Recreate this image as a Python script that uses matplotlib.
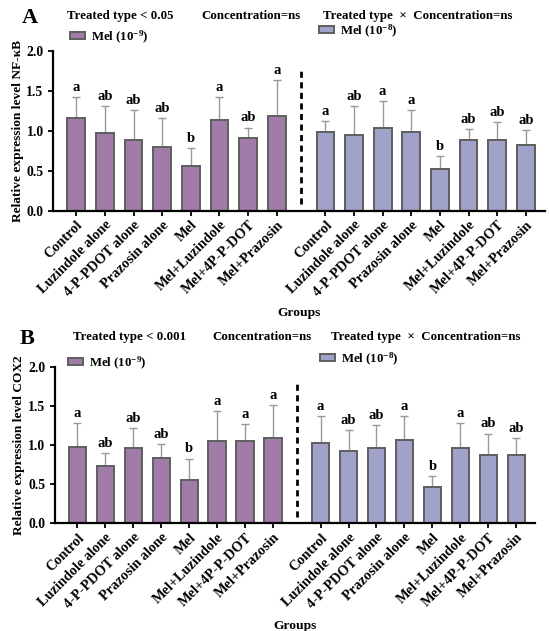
import matplotlib
matplotlib.use("Agg")
from matplotlib import pyplot as plt
from matplotlib import transforms
import numpy as np

plt.rcParams["font.family"] = ["Liberation Serif", "DejaVu Serif"]
plt.rcParams["font.weight"] = "bold"
plt.rcParams["mathtext.fontset"] = "custom"
plt.rcParams["mathtext.rm"] = "Liberation Serif:bold"
plt.rcParams["mathtext.it"] = "Liberation Serif:bold"
plt.rcParams["mathtext.bf"] = "Liberation Serif:bold"

groups = ["Control", "Luzindole alone", "4-P-PDOT alone", "Prazosin alone",
          "Mel", "Mel+Luzindole", "Mel+4P-P-DOT", "Mel+Prazosin"]

# panel A: NF-kB
nf_low = [1.16, 0.97, 0.88, 0.80, 0.56, 1.13, 0.91, 1.18]
nf_low_sd = [0.26, 0.34, 0.38, 0.36, 0.22, 0.29, 0.13, 0.45]
nf_low_sig = ["a", "ab", "ab", "ab", "b", "a", "ab", "a"]
nf_high = [0.99, 0.95, 1.04, 0.98, 0.52, 0.88, 0.89, 0.82]
nf_high_sd = [0.13, 0.36, 0.33, 0.28, 0.16, 0.14, 0.22, 0.19]
nf_high_sig = ["a", "ab", "a", "a", "b", "ab", "ab", "ab"]

# panel B: COX2
cox_low = [0.98, 0.74, 0.96, 0.84, 0.56, 1.06, 1.06, 1.09]
cox_low_sd = [0.31, 0.16, 0.26, 0.18, 0.27, 0.38, 0.21, 0.43]
cox_low_sig = ["a", "ab", "ab", "ab", "b", "a", "a", "a"]
cox_high = [1.03, 0.93, 0.97, 1.07, 0.46, 0.96, 0.88, 0.88]
cox_high_sd = [0.34, 0.27, 0.29, 0.30, 0.14, 0.32, 0.27, 0.21]
cox_high_sig = ["a", "ab", "ab", "a", "b", "a", "ab", "ab"]

LOW_COLOR = "#a27ca9"
HIGH_COLOR = "#a1a2c9"
EDGE = "#5e5e5e"
ERR = "#999999"
FS = 9.3

x_low = np.arange(8)
x_high = np.arange(8) + 8.7
divider = (x_low[-1] + x_high[0]) / 2

fig = plt.figure(figsize=(5.5, 6.31), dpi=100)
label_shift = transforms.ScaledTranslation(5 / 100, -7 / 100, fig.dpi_scale_trans)


def draw_panel(ax, low, low_sd, low_sig, high, high_sd, high_sig, ylabel):
    ax.bar(x_low, low, width=0.62, color=LOW_COLOR, edgecolor=EDGE, linewidth=1.4,
           label=r"Mel (10$^{-9}$)", zorder=2)
    ax.bar(x_high, high, width=0.62, color=HIGH_COLOR, edgecolor=EDGE, linewidth=1.4,
           label=r"Mel (10$^{-8}$)", zorder=2)
    for xs, vals, sd, sig in [(x_low, low, low_sd, low_sig), (x_high, high, high_sd, high_sig)]:
        ax.errorbar(xs, vals, yerr=[np.zeros(len(vals)), sd], fmt="none", ecolor=ERR,
                    elinewidth=1, capsize=3, capthick=1, zorder=1)
        for xi, v, s, letter in zip(xs, vals, sd, sig):
            ax.text(xi, v + s + 0.04, letter, ha="center", va="bottom", fontsize=10.5,
                    fontweight="bold")
    ax.plot([divider, divider], [0.08, 1.8], color="black", linestyle=(0, (2.2, 1.6)), lw=2)
    ax.set_xlim(-0.8, 16.37)
    ax.set_ylim(0, 2.0)
    ax.set_yticks([0, 0.5, 1.0, 1.5, 2.0])
    ax.set_yticklabels(["0.0", "0.5", "1.0", "1.5", "2.0"], fontsize=9.8)
    ax.set_xticks(list(x_low) + list(x_high))
    ax.set_xticklabels(groups + groups, rotation=45, ha="right", va="top",
                       rotation_mode="anchor", fontsize=10.3)
    for lab in ax.get_xticklabels():
        lab.set_transform(lab.get_transform() + label_shift)
    ax.tick_params(axis="both", width=1.3, length=3.5, direction="out")
    ax.tick_params(axis="x", pad=2)
    ax.spines["top"].set_visible(False)
    ax.spines["right"].set_visible(False)
    ax.spines["left"].set_linewidth(1.6)
    ax.spines["bottom"].set_linewidth(1.6)
    ax.set_ylabel(ylabel, fontsize=9.6, fontweight="bold", labelpad=2)
    ax.set_xlabel("Groups", fontsize=9.7, fontweight="bold", labelpad=6)


ax_a = fig.add_axes([0.097, 0.666, 0.894, 0.2536])
ax_b = fig.add_axes([0.100, 0.1707, 0.8727, 0.2472])

draw_panel(ax_a, nf_low, nf_low_sd, nf_low_sig, nf_high, nf_high_sd, nf_high_sig,
           "Relative expression level NF-κB")
draw_panel(ax_b, cox_low, cox_low_sd, cox_low_sig, cox_high, cox_high_sd, cox_high_sig,
           "Relative expression level COX2")

# headers
fig.text(30 / 550, 1 - 18 / 631, "A", fontsize=16, fontweight="bold", ha="center", va="center")
fig.text(67 / 550, 1 - 16 / 631, "Treated type < 0.05", fontsize=FS, va="center")
fig.text(201 / 550, 1 - 16 / 631, "Concentration=ns", fontsize=FS, va="center")
fig.text(323 / 550, 1 - 16 / 631, "Treated type  ×  Concentration=ns", fontsize=FS, va="center")

fig.text(27 / 550, 1 - 339 / 631, "B", fontsize=16, fontweight="bold", ha="center", va="center")
fig.text(73 / 550, 1 - 337 / 631, "Treated type < 0.001", fontsize=FS, va="center")
fig.text(212 / 550, 1 - 337 / 631, "Concentration=ns", fontsize=FS, va="center")
fig.text(331 / 550, 1 - 337 / 631, "Treated type  ×  Concentration=ns", fontsize=FS, va="center")


def add_legends(ax, left_pos, right_pos):
    handles, labels = ax.get_legend_handles_labels()
    kw = dict(frameon=False, fontsize=FS, handlelength=1.15, handleheight=0.5,
              handletextpad=0.45, borderpad=0, borderaxespad=0, loc="center left")
    leg1 = ax.legend([handles[0]], [labels[0]], bbox_to_anchor=left_pos,
                     bbox_transform=fig.transFigure, **kw)
    ax.add_artist(leg1)
    ax.legend([handles[1]], [labels[1]], bbox_to_anchor=right_pos,
              bbox_transform=fig.transFigure, **kw)


add_legends(ax_a, (70 / 550, 1 - 37 / 631), (319 / 550, 1 - 31 / 631))
add_legends(ax_b, (68 / 550, 1 - 363 / 631), (320 / 550, 1 - 359 / 631))

fig.savefig("out.png", dpi=100)
